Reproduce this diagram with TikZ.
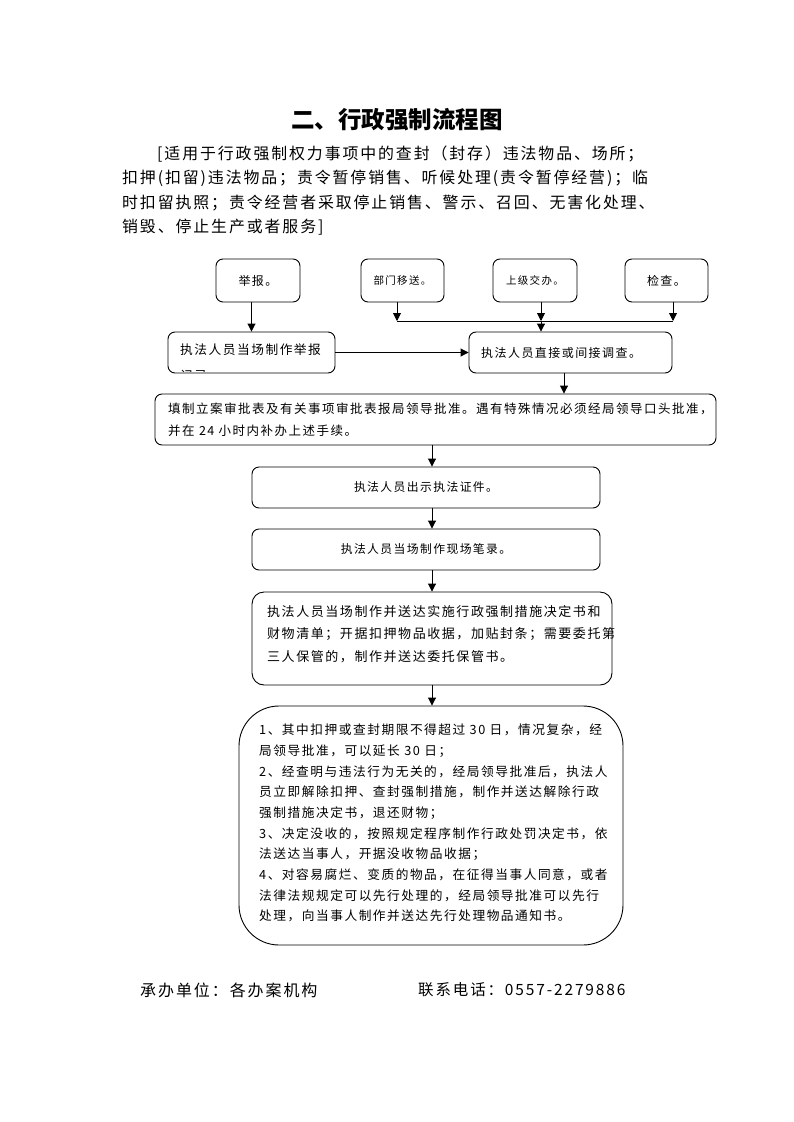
\documentclass[tikz,border=0pt]{standalone}
\usepackage{fontspec}
\setmainfont{Noto Sans CJK SC}
\newfontfamily\cjk[LetterSpace=12]{Noto Sans CJK SC}
\newfontfamily\cjkt{Noto Sans CJK SC}
\newcommand\myfs[1]{\fontsize{#1}{#1}\selectfont}
\usetikzlibrary{arrows.meta}
\begin{document}
\begin{tikzpicture}[x=1pt,y=-1pt,
  box/.style={draw, line width=0.9pt, rounded corners=7pt, inner sep=0pt},
  arr/.style={draw, line width=0.9pt, -{Triangle[length=8pt,width=8pt]}},
  ln/.style={anchor=west, inner sep=0pt},
]
\useasboundingbox[fill=white] (0,0) rectangle (793,1122);

% title and header
\node[inner sep=0pt] (title) at (397,120) {\cjkt\bfseries\myfs{23.5}二、行政强制流程图};
\foreach \t [count=\i] in {{\hspace*{35pt}[适用于行政强制权力事项中的查封（封存）违法物品、场所；},
  {扣押(扣留)违法物品；责令暂停销售、听候处理(责令暂停经营)；临},
  {时扣留执照；责令经营者采取停止销售、警示、召回、无害化处理、},
  {销毁、停止生产或者服务]}}
  \node[ln] (h\i) at (122,{154+(\i-1)*24.5}) {\cjk\myfs{15.9}\t};

% top row
\node[box, minimum width=84pt, minimum height=43pt] (jb) at (258,280.5) {\cjk\myfs{12}举报。};
\node[box, minimum width=83pt, minimum height=43pt] (bm) at (402.5,280.5) {\cjk\myfs{10.5}部门移送。};
\node[box, minimum width=84pt, minimum height=43pt] (sj) at (535,280.5) {\cjk\myfs{10.5}上级交办。};
\node[box, minimum width=83pt, minimum height=43pt] (jc) at (666.5,280.5) {\cjk\myfs{12}检查。};

% second row
\node[box, minimum width=167pt, minimum height=41pt] (jr) at (251.5,352.5) {};
\begin{scope}
  \clip (jr.north west) rectangle ([yshift=2pt]jr.south east);
  \node[ln] (jr1) at (180,350) {\cjk\myfs{12.7}执法人员当场制作举报};
  \node[ln] (jr2) at (180,376) {\cjk\myfs{12.7}记录};
\end{scope}
\node[box, minimum width=203pt, minimum height=41pt] (dc) at (570.5,352.5) {};
\node[ln] (dct) at (481,352.5) {\cjk\myfs{12}执法人员直接或间接调查。};

% main column
\node[box, minimum width=561pt, minimum height=51pt] (tz) at (435.5,419.5) {};
\foreach \t [count=\i] in {{填制立案审批表及有关事项审批表报局领导批准。遇有特殊情况必须经局领导口头批准，},
  {并在 24 小时内补办上述手续。}}
  \node[ln] (tz\i) at (168,{409+(\i-1)*22}) {\cjk\myfs{12.5}\t};

\node[box, minimum width=348pt, minimum height=41pt] (cs) at (426,487.5) {\cjk\myfs{11.8}执法人员出示执法证件。};
\node[box, minimum width=348pt, minimum height=41pt] (xc) at (426,549.5) {\cjk\myfs{11.8}执法人员当场制作现场笔录。};

\node[box, rounded corners=12pt, minimum width=360pt, minimum height=93pt] (jd) at (432,638.5) {};
\foreach \t [count=\i] in {{执法人员当场制作并送达实施行政强制措施决定书和},
  {财物清单；开据扣押物品收据，加贴封条；需要委托第},
  {三人保管的，制作并送达委托保管书。}}
  \node[ln] (jd\i) at (267,{612+(\i-1)*22.5}) {\cjk\myfs{13}\t};

\node[box, rounded corners=40pt, minimum width=384pt, minimum height=239pt] (fb) at (431,825.5) {};
\foreach \t [count=\i] in {{1、其中扣押或查封期限不得超过 30 日，情况复杂，经},
  {局领导批准，可以延长 30 日；},
  {2、经查明与违法行为无关的，经局领导批准后，执法人},
  {员立即解除扣押、查封强制措施，制作并送达解除行政},
  {强制措施决定书，退还财物；},
  {3、决定没收的，按照规定程序制作行政处罚决定书，依},
  {法送达当事人，开据没收物品收据；},
  {4、对容易腐烂、变质的物品，在征得当事人同意，或者},
  {法律法规规定可以先行处理的，经局领导批准可以先行},
  {处理，向当事人制作并送达先行处理物品通知书。}}
  \node[ln] (fb\i) at (259,{730+(\i-1)*20.7}) {\cjk\myfs{12.7}\t};

% connectors
\coordinate (m1) at (397,321);
\coordinate (m2) at (541,321);
\coordinate (m3) at (673,321);
\coordinate (c1) at (564,0);
\coordinate (c2) at (432,0);
\draw[arr] (jb.south -| jr.north) -- (jr.north);
\draw[arr] (bm.south -| m1) -- (m1);
\draw[arr] (sj.south -| m2) -- (m2);
\draw[arr] (jc.south -| m3) -- (m3);
\draw[line width=0.9pt] (m1) -- (m3);
\draw[arr] (m2) -- (m2 |- dc.north);
\draw[arr] (jr.east) -- (dc.west);
\draw[arr] (dc.south -| c1) -- (tz.north -| c1);
\draw[arr] (tz.south -| c2) -- (cs.north -| c2);
\draw[arr] (cs.south -| c2) -- (xc.north -| c2);
\draw[arr] (xc.south -| c2) -- (jd.north -| c2);
\draw[arr] (jd.south -| c2) -- (fb.north -| c2);

% footer
\node[ln] (f1) at (140,990) {\cjk\myfs{16}承办单位：各办案机构};
\node[ln] (f2) at (418,990) {\cjk\myfs{15.5}联系电话：0557-2279886};
\end{tikzpicture}
\end{document}
